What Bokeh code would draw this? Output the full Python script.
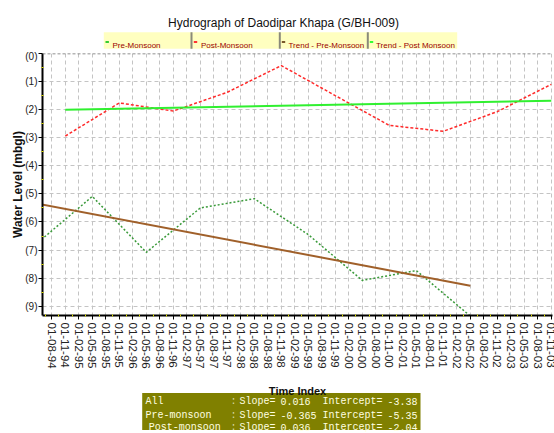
from bokeh.plotting import figure
from bokeh.layouts import column
from bokeh.models import Range1d, FixedTicker, Span
from bokeh.core.properties import value
from bokeh.embed import file_html
from bokeh.resources import INLINE

# ---------------- data ----------------
title_text = "Hydrograph of Daodipar Khapa (G/BH-009)"

time_index = [
    "01-05-94", "01-08-94", "01-11-94",
    "01-02-95", "01-05-95", "01-08-95", "01-11-95",
    "01-02-96", "01-05-96", "01-08-96", "01-11-96",
    "01-02-97", "01-05-97", "01-08-97", "01-11-97",
    "01-02-98", "01-05-98", "01-08-98", "01-11-98",
    "01-02-99", "01-05-99", "01-08-99", "01-11-99",
    "01-02-00", "01-05-00", "01-08-00", "01-11-00",
    "01-02-01", "01-05-01", "01-08-01", "01-11-01",
    "01-02-02", "01-05-02", "01-08-02", "01-11-02",
    "01-02-03", "01-05-03", "01-08-03", "01-11-03",
]

pre_dates = ["01-05-94", "01-05-95", "01-05-96", "01-05-97", "01-05-98",
             "01-05-99", "01-05-00", "01-05-01", "01-05-02"]
pre_level = [6.72, 5.09, 7.08, 5.50, 5.17, 6.45, 8.08, 7.73, 9.35]

post_dates = ["01-11-94", "01-11-95", "01-11-96", "01-11-97", "01-11-98",
              "01-11-99", "01-11-00", "01-11-01", "01-11-02", "01-11-03"]
post_level = [2.94, 1.76, 2.05, 1.38, 0.43, 1.50, 2.56, 2.77, 2.07, 1.10]

trend_pre_dates = ["01-05-94", "01-05-02"]
trend_pre_level = [5.35, 8.27]

trend_post_dates = ["01-11-94", "01-11-03"]
trend_post_level = [2.00, 1.68]

y_ticks = [0, 1, 2, 3, 4, 5, 6, 7, 8, 9]
y_tick_labels = ["(0)", "(1)", "(2)", "(3)", "(4)", "(5)", "(6)", "(7)", "(8)", "(9)"]

legend_labels = ["Pre-Monsoon", "Post-Monsoon", "Trend - Pre-Monsoon", "Trend - Post Monsoon"]
legend_colors = ["#33CC33", "#FF3333", "#7A5A2A", "#33FF33"]

stats_groups = ["All", "Pre-monsoon", "Post-monsoon"]
stats_slopes = ["0.016", "-0.365", "0.036"]
stats_intercepts = ["-3.38", "-5.35", "-2.04"]

# ---------------- layout constants ----------------
SANS = "Liberation Sans"
MONO = "Liberation Mono"
FRAME_W = 510
BL, BR = 42, 2            # left / right borders shared by all three figures
pos = {d: i for i, d in enumerate(time_index)}


def panel(height):
    f = figure(title=None, frame_width=FRAME_W, height=height,
               x_range=Range1d(BL, BL + FRAME_W), y_range=Range1d(height, 0),
               output_backend="svg", toolbar_location=None,
               x_axis_location=None, y_axis_location=None,
               min_border_left=BL, min_border_right=BR,
               min_border_top=0, min_border_bottom=0)
    f.grid.visible = False
    f.outline_line_color = None
    return f


# ---------------- header (title + legend strip) ----------------
HH = 50
hdr = panel(HH)
hdr.text(x=[283], y=[22.5], text=[title_text], text_align="center",
         text_baseline="alphabetic", text_font_size="12px",
         text_font=value(SANS), text_color="#111111")

hdr.quad(left=[103.3], right=[456.7], top=[31.7], bottom=[48.3],
         fill_color="#FFFFC0", line_color=None)
sep_x = [191.0, 279.3, 367.3]
hdr.segment(x0=sep_x, y0=[31.7] * 3, x1=sep_x, y1=[48.3] * 3,
            line_color="#8A8A7A", line_width=2)
mark_x = [106.7, 195.0, 283.0, 371.0]
hdr.segment(x0=[m - 1.7 for m in mark_x], y0=[41.5] * 4,
            x1=[m + 1.7 for m in mark_x], y1=[41.5] * 4,
            line_color=legend_colors, line_width=2)
text_x = [112.0, 200.5, 288.0, 375.5]
hdr.text(x=text_x, y=[44.5] * 4, text=legend_labels, text_align="left",
         text_baseline="alphabetic", text_font_size="8px",
         text_font=value(SANS), text_color="#990000")

# ---------------- main plot ----------------
p = figure(title=None, frame_width=FRAME_W, frame_height=262,
           x_range=Range1d(0.31, 38.09), y_range=Range1d(9.33, 0),
           output_backend="svg", toolbar_location=None,
           min_border_left=BL, min_border_right=BR,
           min_border_top=3, min_border_bottom=66)
p.outline_line_color = None

p.xaxis.ticker = FixedTicker(ticks=list(range(len(time_index))),
                             minor_ticks=[i + 0.5 for i in range(len(time_index))])
p.xaxis.major_label_overrides = {i: d for i, d in enumerate(time_index)}
p.xaxis.major_label_orientation = "vertical"
p.xaxis.major_label_text_font_size = "11.5px"
p.xaxis.major_label_text_font = SANS
p.xaxis.major_label_text_color = "#222222"
p.xaxis.major_label_standoff = 3

p.yaxis.ticker = FixedTicker(ticks=y_ticks,
                             minor_ticks=[t + 0.5 for t in y_ticks])
p.yaxis.major_label_overrides = {t: l for t, l in zip(y_ticks, y_tick_labels)}
p.yaxis.major_label_text_font_size = "10px"
p.yaxis.major_label_text_font = SANS
p.yaxis.major_label_text_color = "#222222"
p.yaxis.major_label_standoff = 1
p.yaxis.axis_label = "Water Level (mbgl)"
p.yaxis.axis_label_text_font = SANS
p.yaxis.axis_label_text_font_style = "bold"
p.yaxis.axis_label_text_font_size = "12px"
p.yaxis.axis_label_text_color = "#111111"
p.yaxis.axis_label_standoff = -3

for ax in (p.xaxis, p.yaxis):
    ax.axis_line_color = "black"
    ax.axis_line_width = 2
    ax.major_tick_line_color = "black"
    ax.major_tick_in = 0
    ax.major_tick_out = 4
    ax.minor_tick_line_color = "#D8D800"
    ax.minor_tick_in = 1
    ax.minor_tick_out = 1

for g in (p.xgrid, p.ygrid):
    g.grid_line_color = "#C4C4C4"
    g.grid_line_dash = "4 3"
    g.grid_line_width = 1

p.add_layout(Span(location=0, dimension="width", line_color="#6E6E6E",
                  line_dash="3 2", line_width=1.5))

p.line([pos[d] for d in pre_dates], pre_level, line_color="#3A9A3A",
       line_dash="2 2", line_width=1.5)
p.line([pos[d] for d in post_dates], post_level, line_color="#FF2A2A",
       line_dash="3 2", line_width=1.5)
p.line([pos[d] for d in trend_pre_dates], trend_pre_level, line_color="#A0602A",
       line_width=2)
p.line([pos[d] for d in trend_post_dates], trend_post_level, line_color="#30F030",
       line_width=2)

# ---------------- footer (axis title + statistics box) ----------------
FH = 52
ftr = panel(FH)
ftr.quad(left=[141.7], right=[420.0], top=[11.5], bottom=[48.5],
         fill_color="#808000", line_color=None)
ftr.text(x=[BL + FRAME_W / 2], y=[9.5], text=["Time Index"], text_align="center",
         text_baseline="alphabetic", text_font_size="11px",
         text_font=value(SANS), text_font_style="bold", text_color="#111111")

row_y = [20.0, 33.5, 45.5]
common = dict(text_baseline="alphabetic", text_font_size="10px",
              text_font=value(MONO), text_align="left")
ftr.text(x=[145.0, 145.0, 148.3], y=row_y, text=stats_groups,
         text_color="#FFFFE0", **common)
ftr.text(x=[230.0] * 3, y=row_y, text=[":"] * 3, text_color="#D8D8A0", **common)
ftr.text(x=[239.0] * 3, y=row_y, text=["Slope="] * 3, text_color="#FFFFE0", **common)
ftr.text(x=[280.0] * 3, y=row_y, text=stats_slopes, text_color="#FFFFE0", **common)
ftr.text(x=[322.0] * 3, y=row_y, text=["Intercept="] * 3, text_color="#FFFFE0", **common)
ftr.text(x=[387.0] * 3, y=row_y, text=stats_intercepts, text_color="#FFFFE0", **common)

layout = column(hdr, p, ftr, spacing=0)
open("out.html", "w").write(file_html(layout, INLINE))
